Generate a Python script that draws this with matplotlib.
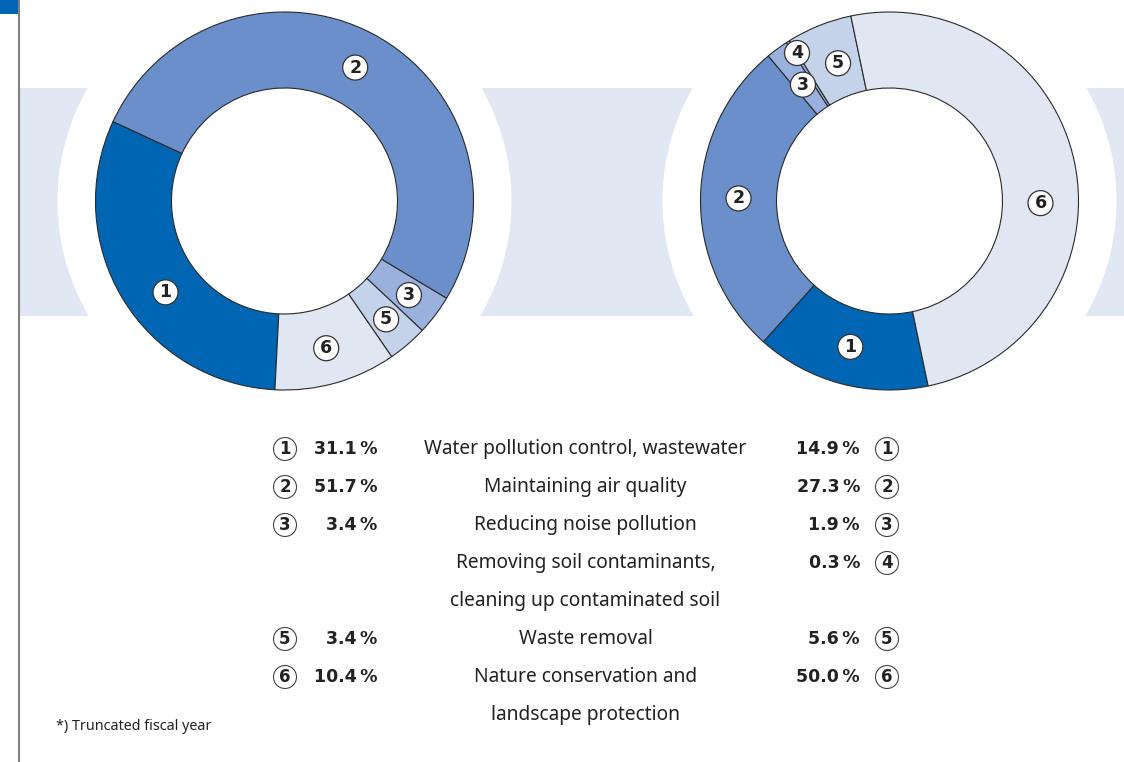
import matplotlib.pyplot as plt
from matplotlib.patches import Circle, Rectangle
import numpy as np

plt.rcParams['font.family'] = ['Noto Sans', 'DejaVu Sans']

# === Dados ===
numeros = ['1', '2', '3', '4', '5', '6']
categorias = ['Water pollution control, wastewater',
              'Maintaining air quality',
              'Reducing noise pollution',
              'Removing soil contaminants,\ncleaning up contaminated soil',
              'Waste removal',
              'Nature conservation and\nlandscape protection']
esquerda = [31.1, 51.7, 3.4, 0.0, 3.4, 10.4]   # item 4 sem valor
direita = [14.9, 27.3, 1.9, 0.3, 5.6, 50.0]
nota = '*) Truncated fiscal year'

# === Estilo ===
cores = ['#0066b3', '#6a8fcb', '#9ab1de', '#9ab1de', '#c4d2ea', '#e0e7f3']
cor_faixa = '#e1e8f4'
cor_texto = '#222222'
fonte_negrito = ['DejaVu Sans']
W, H = 1124, 762

fig = plt.figure(figsize=(W / 100, H / 100), dpi=100)
ax = fig.add_axes([0, 0, 1, 1])


def py(y):
    # converte y de pixel (topo) para coordenada do eixo
    return H - y


centros = [(284.5, py(201)), (889.5, py(201))]
r_ext, r_int = 189, 113

# faixa clara de fundo com recortes circulares
ax.add_patch(Rectangle((18, py(316)), W - 18, 228, color=cor_faixa, lw=0, zorder=0))
for c in centros:
    ax.add_patch(Circle(c, 227, color='white', lw=0, zorder=1))

# barra azul e linha vertical
ax.add_patch(Rectangle((0, py(14)), 18, 14, color='#0066b3', lw=0, zorder=2))
ax.plot([18.5, 18.5], [0, H], color='#808080', lw=1.5, zorder=2)


def rosca(valores, centro, inicio, ajustes):
    idx = [i for i, v in enumerate(valores) if v > 0]
    wedges, _ = ax.pie([valores[i] for i in idx], colors=[cores[i] for i in idx],
                       startangle=inicio, counterclock=False, radius=r_ext, center=centro,
                       wedgeprops=dict(width=r_ext - r_int, edgecolor='#2a2a2a', linewidth=0.8))
    for w, i in zip(wedges, idx):
        w.set_zorder(3)
        ang = (w.theta1 + w.theta2) / 2
        d_ang, r = ajustes.get(i, (0, 151))
        a = np.radians(ang + d_ang)
        x = centro[0] + r * np.cos(a)
        y = centro[1] + r * np.sin(a)
        ax.add_patch(Circle((x, y), 12.5, fc='white', ec='#333333', lw=0.9, zorder=5))
        ax.text(x, y, numeros[i], ha='center', va='center', fontsize=12.5,
                fontweight='bold', family=fonte_negrito, color=cor_texto, zorder=6)


rosca(esquerda, centros[0], 267.1, {0: (6.4, 150), 2: (0, 156), 4: (0, 156), 5: (0, 153)})
rosca(direita, centros[1], 281.8, {2: (0.2, 145), 3: (-0.5, 174.5), 4: (-1.4, 147), 5: (-12.6, 151)})


def circulo(x, y, n):
    ax.add_patch(Circle((x, y), 11.5, fc='white', ec='#444444', lw=0.8, zorder=5))
    ax.text(x, y, n, ha='center', va='center', fontsize=12,
            fontweight='bold', family=fonte_negrito, color=cor_texto, zorder=6)


# === Tabela ===
y0, passo = 449, 38
linha = 0
for i, cat in enumerate(categorias):
    yl = py(y0 + passo * linha)
    for k, parte in enumerate(cat.split('\n')):
        ax.text(585.5, py(y0 + passo * (linha + k)), parte, ha='center', va='center',
                fontsize=13.8, color=cor_texto)
    if esquerda[i] > 0:
        circulo(285, yl, numeros[i])
        ax.text(377, yl, f'{esquerda[i]:.1f}\u2009%', ha='right', va='center', fontsize=12.5,
                fontweight='bold', family=fonte_negrito, color=cor_texto)
    circulo(887, yl, numeros[i])
    ax.text(860, yl, f'{direita[i]:.1f}\u2009%', ha='right', va='center', fontsize=12.5,
            fontweight='bold', family=fonte_negrito, color=cor_texto)
    linha += len(cat.split('\n'))

ax.text(56, py(727), nota, ha='left', va='center', fontsize=10.3, color=cor_texto)

ax.set_xlim(0, W)
ax.set_ylim(0, H)
ax.set_aspect('equal')
ax.axis('off')

plt.savefig('out.png', dpi=100)
